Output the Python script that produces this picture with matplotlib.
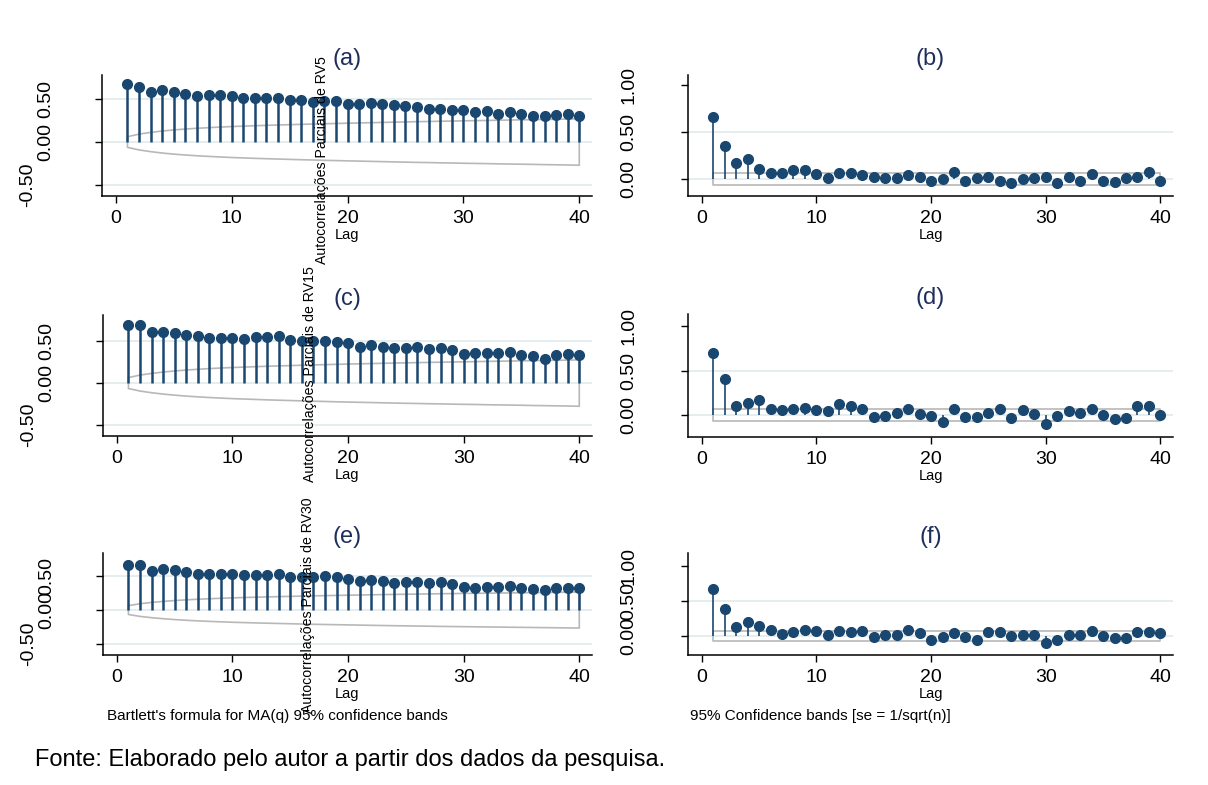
import matplotlib
matplotlib.use("Agg")
import matplotlib.pyplot as plt
import numpy as np

plt.rcParams['font.family'] = ['Liberation Sans', 'DejaVu Sans']

# ---------------------------------------------------------------------------
# Data
# ---------------------------------------------------------------------------
lags = list(range(1, 41))

acf_rv5 = [0.673, 0.638, 0.588, 0.608, 0.577, 0.558, 0.538, 0.542, 0.550, 0.531,
           0.508, 0.515, 0.515, 0.508, 0.488, 0.488, 0.469, 0.475, 0.473, 0.446,
           0.438, 0.458, 0.438, 0.431, 0.419, 0.404, 0.388, 0.385, 0.373, 0.377,
           0.354, 0.362, 0.331, 0.354, 0.323, 0.308, 0.308, 0.315, 0.331, 0.300]
acf_rv15 = [0.696, 0.696, 0.604, 0.604, 0.600, 0.576, 0.556, 0.540, 0.540, 0.536,
            0.524, 0.548, 0.548, 0.556, 0.516, 0.500, 0.500, 0.504, 0.488, 0.472,
            0.428, 0.456, 0.428, 0.420, 0.412, 0.428, 0.404, 0.420, 0.392, 0.348,
            0.360, 0.360, 0.360, 0.364, 0.332, 0.320, 0.292, 0.332, 0.340, 0.332]
acf_rv30 = [0.667, 0.662, 0.578, 0.598, 0.588, 0.564, 0.529, 0.529, 0.529, 0.529,
            0.510, 0.520, 0.510, 0.529, 0.490, 0.490, 0.490, 0.505, 0.490, 0.451,
            0.431, 0.441, 0.422, 0.392, 0.407, 0.412, 0.402, 0.407, 0.382, 0.338,
            0.328, 0.333, 0.333, 0.353, 0.324, 0.309, 0.299, 0.319, 0.319, 0.319]

pacf_rv5 = [0.656, 0.351, 0.170, 0.213, 0.110, 0.060, 0.060, 0.096, 0.096, 0.057,
            0.014, 0.067, 0.060, 0.039, 0.018, 0.014, 0.007, 0.039, 0.025, -0.025,
            0.000, 0.071, -0.018, 0.007, 0.025, -0.025, -0.039, 0.000, 0.014, 0.025,
            -0.039, 0.018, -0.025, 0.050, -0.018, -0.032, 0.014, 0.025, 0.071, -0.018]
pacf_rv15 = [0.693, 0.407, 0.096, 0.137, 0.167, 0.070, 0.056, 0.070, 0.078, 0.056,
             0.048, 0.119, 0.096, 0.070, -0.026, -0.011, 0.022, 0.063, 0.011, -0.011,
             -0.078, 0.063, -0.019, -0.026, 0.022, 0.063, -0.033, 0.056, 0.011, -0.100,
             -0.011, 0.044, 0.022, 0.070, -0.004, -0.041, -0.033, 0.096, 0.096, 0.004]
pacf_rv30 = [0.665, 0.382, 0.132, 0.198, 0.151, 0.085, 0.024, 0.052, 0.094, 0.066,
             0.019, 0.075, 0.052, 0.075, -0.019, 0.019, 0.009, 0.085, 0.038, -0.052,
             -0.019, 0.038, -0.019, -0.061, 0.052, 0.052, 0.000, 0.009, 0.009, -0.104,
             -0.061, 0.019, 0.019, 0.075, 0.000, -0.033, -0.033, 0.052, 0.052, 0.038]

# Bartlett 95% band (upper limit, lower is the mirror)
band_rv5 = [0.062, 0.092, 0.112, 0.128, 0.141, 0.151, 0.160, 0.167, 0.174, 0.180,
            0.185, 0.190, 0.194, 0.198, 0.202, 0.206, 0.209, 0.213, 0.216, 0.219,
            0.222, 0.225, 0.228, 0.231, 0.234, 0.237, 0.239, 0.242, 0.244, 0.247,
            0.249, 0.251, 0.254, 0.256, 0.258, 0.260, 0.263, 0.265, 0.267, 0.270]
band_rv15 = [0.065, 0.095, 0.115, 0.131, 0.144, 0.155, 0.164, 0.172, 0.179, 0.185,
             0.190, 0.195, 0.200, 0.204, 0.208, 0.212, 0.216, 0.219, 0.223, 0.226,
             0.229, 0.232, 0.235, 0.238, 0.241, 0.243, 0.246, 0.248, 0.251, 0.253,
             0.255, 0.258, 0.260, 0.262, 0.264, 0.267, 0.269, 0.271, 0.273, 0.276]
band_rv30 = [0.065, 0.093, 0.112, 0.127, 0.140, 0.150, 0.159, 0.166, 0.173, 0.179,
             0.184, 0.189, 0.193, 0.197, 0.201, 0.205, 0.209, 0.212, 0.215, 0.218,
             0.221, 0.224, 0.227, 0.230, 0.232, 0.235, 0.237, 0.240, 0.242, 0.244,
             0.246, 0.248, 0.250, 0.252, 0.254, 0.256, 0.258, 0.260, 0.262, 0.264]

# 1.96/sqrt(n) band for the PACF panels
pacf_se = [0.066, 0.066, 0.068]

acf_series = [acf_rv5, acf_rv15, acf_rv30]
acf_bands = [band_rv5, band_rv15, band_rv30]
pacf_series = [pacf_rv5, pacf_rv15, pacf_rv30]

acf_titles = ["(a)", "(c)", "(e)"]
pacf_titles = ["(b)", "(d)", "(f)"]
ylabels = ["Autocorrelações Parciais de RV5",
           "Autocorrelações Parciais de RV15",
           "Autocorrelações Parciais de RV30"]
acf_yticks = [-0.5, 0.0, 0.5]
pacf_yticks = [0.0, 0.5, 1.0]
xticks = [0, 10, 20, 30, 40]

# ---------------------------------------------------------------------------
# Layout (pixel boxes: left, top, right, bottom) and styles
# ---------------------------------------------------------------------------
W, H = 1208, 785
acf_boxes = [(102, 75, 592, 196), (103, 315, 592, 436), (103, 553, 592, 655)]
pacf_boxes = [(688, 75, 1173, 196), (688, 314, 1173, 437), (688, 553, 1173, 655)]
acf_ylims = [(-0.628, 0.78), (-0.63, 0.81), (-0.66, 0.838)]
pacf_ylims = [(-0.18, 1.106), (-0.247, 1.135), (-0.27, 1.186)]
ylabel_pos = [(322, 160), (310, 374), (308, 605)]

NAVY = "#1a476f"
TITLE = "#1f2f5c"
GRID = "#e4ecee"
BAND = "#b8b8b8"
TICK_FS = 14


def add_axes_px(fig, box):
    l, t, r, b = box
    return fig.add_axes([l / W, 1 - b / H, (r - l) / W, (b - t) / H])


def style_axes(ax, title, ylim, yticks, grid_vals, label_offsets):
    ax.set_xlim(-1.2, 41.1)
    ax.set_ylim(*ylim)
    for v in grid_vals:
        ax.axhline(v, color=GRID, lw=1.3, zorder=0)
    for s in ["top", "right"]:
        ax.spines[s].set_visible(False)
    for s in ["left", "bottom"]:
        ax.spines[s].set_linewidth(1.1)
    ax.set_xticks(xticks)
    ax.set_yticks(yticks)
    ax.tick_params(axis="both", direction="out", length=5, width=1.0)
    ax.tick_params(axis="x", labelsize=TICK_FS, pad=5)
    ax.tick_params(axis="y", labelleft=False)
    # rotated y labels drawn by hand (the reference pushes -0.50 further left)
    for t, dx in zip(yticks, label_offsets):
        ax.annotate(f"{t:.2f}", xy=(0, t), xycoords=("axes fraction", "data"),
                    xytext=(dx, 0), textcoords="offset points", rotation=90,
                    ha="right", va="center", fontsize=TICK_FS)
    ax.set_xlabel("Lag", fontsize=10.5, labelpad=1)
    ax.set_title(title, fontsize=17, color=TITLE, pad=7)


fig = plt.figure(figsize=(W / 100, H / 100), dpi=100)
fig.patch.set_facecolor("white")

# --- ACF panels (left column) ---
for i in range(3):
    ax = add_axes_px(fig, acf_boxes[i])
    vals = np.array(acf_series[i])
    band = np.array(acf_bands[i])
    ax.fill_between(lags, -band, band, facecolor="none", edgecolor=BAND,
                    lw=1.2, zorder=1)
    ax.vlines(lags, 0, vals, color=NAVY, lw=1.8, zorder=2)
    ax.plot(lags, vals, "o", color=NAVY, ms=7, zorder=3)
    style_axes(ax, acf_titles[i], acf_ylims[i], acf_yticks, acf_yticks,
               [-47.5, -34.6, -34.6])

# --- PACF panels (right column) ---
for i in range(3):
    ax = add_axes_px(fig, pacf_boxes[i])
    vals = np.array(pacf_series[i])
    se = pacf_se[i]
    ax.fill_between(lags, [-se] * len(lags), [se] * len(lags), facecolor="none",
                    edgecolor=BAND, lw=1.2, zorder=1)
    ax.vlines(lags, 0, vals, color=NAVY, lw=1.2, zorder=2)
    ax.plot(lags, vals, "o", color=NAVY, ms=7, zorder=3)
    style_axes(ax, pacf_titles[i], pacf_ylims[i], pacf_yticks, [0.0, 0.5],
               [-36.7, -36.7, -36.7])

# --- misplaced y titles of the PACF panels, as in the reference ---
for (x, y), txt in zip(ylabel_pos, ylabels):
    fig.text(x / W, 1 - y / H, txt, rotation=90, ha="center", va="center",
             fontsize=10.2, zorder=10)

# --- notes ---
fig.text(107 / W, 1 - 716 / H, "Bartlett's formula for MA(q) 95% confidence bands",
         fontsize=11, va="center", ha="left")
fig.text(690 / W, 1 - 716 / H, "95% Confidence bands [se = 1/sqrt(n)]",
         fontsize=11, va="center", ha="left")
fig.text(35 / W, 1 - 760 / H, "Fonte: Elaborado pelo autor a partir dos dados da pesquisa.",
         fontsize=17, va="center", ha="left")

fig.savefig("out.png", dpi=100)
